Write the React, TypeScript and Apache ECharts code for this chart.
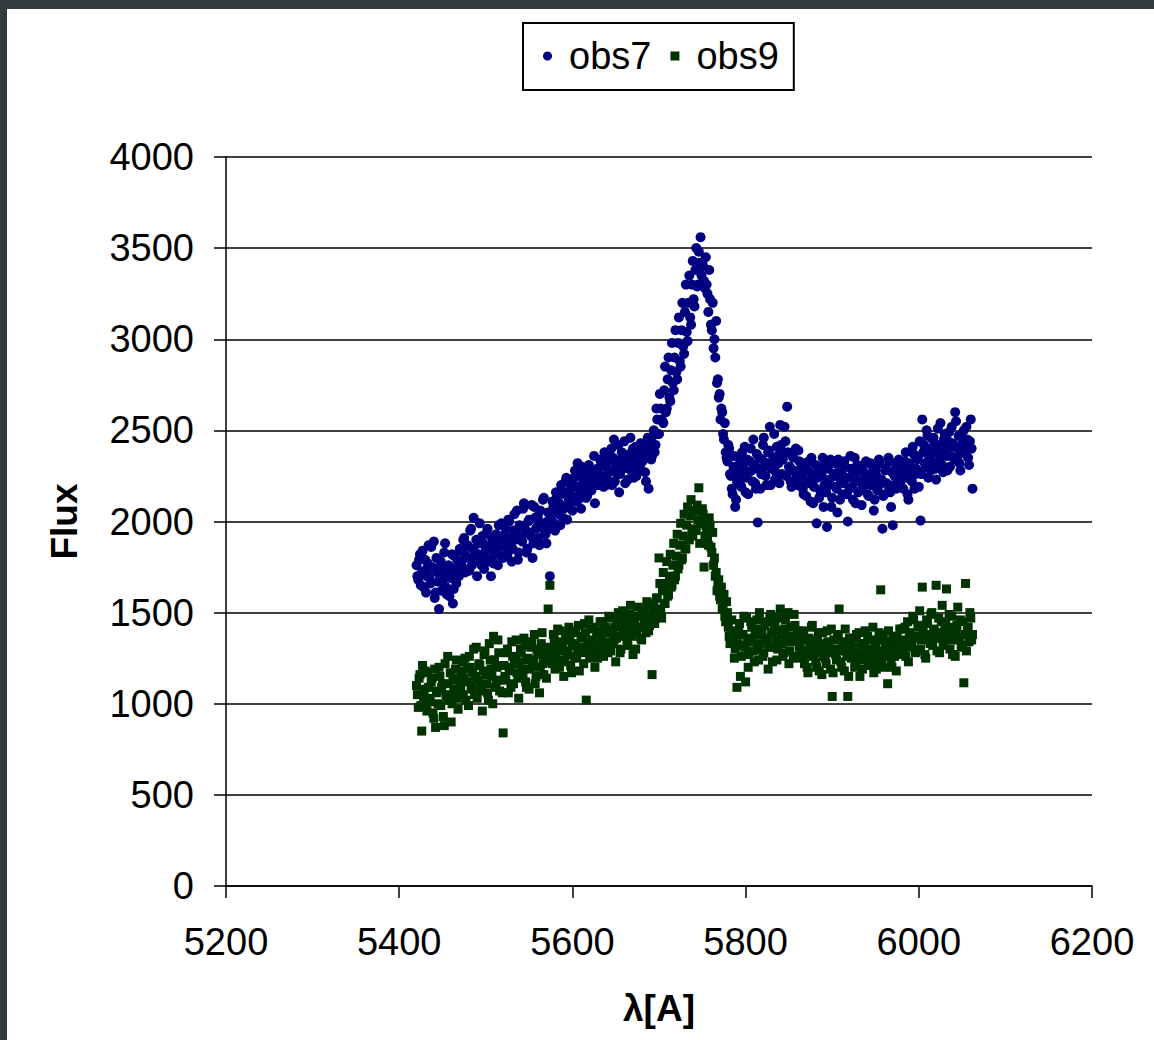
import React, { useEffect, useRef } from "react";
import * as echarts from "echarts";

// Wavelength grids (Angstrom): even and odd samples, shared by both observations
const WAVELENGTH_EVEN = [
  5420, 5422, 5424, 5426, 5428, 5430, 5432, 5434, 5436, 5438,
  5440, 5442, 5444, 5446, 5448, 5450, 5452, 5454, 5456, 5458,
  5460, 5462, 5464, 5466, 5468, 5470, 5472, 5474, 5476, 5478,
  5480, 5482, 5484, 5486, 5488, 5490, 5492, 5494, 5496, 5498,
  5500, 5502, 5504, 5506, 5508, 5510, 5512, 5514, 5516, 5518,
  5520, 5522, 5524, 5526, 5528, 5530, 5532, 5534, 5536, 5538,
  5540, 5542, 5544, 5546, 5548, 5550, 5552, 5554, 5556, 5558,
  5560, 5562, 5564, 5566, 5568, 5570, 5572, 5574, 5576, 5578,
  5580, 5582, 5584, 5586, 5588, 5590, 5592, 5594, 5596, 5598,
  5600, 5602, 5604, 5606, 5608, 5610, 5612, 5614, 5616, 5618,
  5620, 5622, 5624, 5626, 5628, 5630, 5632, 5634, 5636, 5638,
  5640, 5642, 5644, 5646, 5648, 5650, 5652, 5654, 5656, 5658,
  5660, 5662, 5664, 5666, 5668, 5670, 5672, 5674, 5676, 5678,
  5680, 5682, 5684, 5686, 5688, 5690, 5692, 5694, 5696, 5698,
  5700, 5702, 5704, 5706, 5708, 5710, 5712, 5714, 5716, 5718,
  5720, 5722, 5724, 5726, 5728, 5730, 5732, 5734, 5736, 5738,
  5740, 5742, 5744, 5746, 5748, 5750, 5752, 5754, 5756, 5758,
  5760, 5762, 5764, 5766, 5768, 5770, 5772, 5774, 5776, 5778,
  5780, 5782, 5784, 5786, 5788, 5790, 5792, 5794, 5796, 5798,
  5800, 5802, 5804, 5806, 5808, 5810, 5812, 5814, 5816, 5818,
  5820, 5822, 5824, 5826, 5828, 5830, 5832, 5834, 5836, 5838,
  5840, 5842, 5844, 5846, 5848, 5850, 5852, 5854, 5856, 5858,
  5860, 5862, 5864, 5866, 5868, 5870, 5872, 5874, 5876, 5878,
  5880, 5882, 5884, 5886, 5888, 5890, 5892, 5894, 5896, 5898,
  5900, 5902, 5904, 5906, 5908, 5910, 5912, 5914, 5916, 5918,
  5920, 5922, 5924, 5926, 5928, 5930, 5932, 5934, 5936, 5938,
  5940, 5942, 5944, 5946, 5948, 5950, 5952, 5954, 5956, 5958,
  5960, 5962, 5964, 5966, 5968, 5970, 5972, 5974, 5976, 5978,
  5980, 5982, 5984, 5986, 5988, 5990, 5992, 5994, 5996, 5998,
  6000, 6002, 6004, 6006, 6008, 6010, 6012, 6014, 6016, 6018,
  6020, 6022, 6024, 6026, 6028, 6030, 6032, 6034, 6036, 6038,
  6040, 6042, 6044, 6046, 6048, 6050, 6052, 6054, 6056, 6058,
  6060, 6062,
];

const WAVELENGTH_ODD = [
  5421, 5423, 5425, 5427, 5429, 5431, 5433, 5435, 5437, 5439,
  5441, 5443, 5445, 5447, 5449, 5451, 5453, 5455, 5457, 5459,
  5461, 5463, 5465, 5467, 5469, 5471, 5473, 5475, 5477, 5479,
  5481, 5483, 5485, 5487, 5489, 5491, 5493, 5495, 5497, 5499,
  5501, 5503, 5505, 5507, 5509, 5511, 5513, 5515, 5517, 5519,
  5521, 5523, 5525, 5527, 5529, 5531, 5533, 5535, 5537, 5539,
  5541, 5543, 5545, 5547, 5549, 5551, 5553, 5555, 5557, 5559,
  5561, 5563, 5565, 5567, 5569, 5571, 5573, 5575, 5577, 5579,
  5581, 5583, 5585, 5587, 5589, 5591, 5593, 5595, 5597, 5599,
  5601, 5603, 5605, 5607, 5609, 5611, 5613, 5615, 5617, 5619,
  5621, 5623, 5625, 5627, 5629, 5631, 5633, 5635, 5637, 5639,
  5641, 5643, 5645, 5647, 5649, 5651, 5653, 5655, 5657, 5659,
  5661, 5663, 5665, 5667, 5669, 5671, 5673, 5675, 5677, 5679,
  5681, 5683, 5685, 5687, 5689, 5691, 5693, 5695, 5697, 5699,
  5701, 5703, 5705, 5707, 5709, 5711, 5713, 5715, 5717, 5719,
  5721, 5723, 5725, 5727, 5729, 5731, 5733, 5735, 5737, 5739,
  5741, 5743, 5745, 5747, 5749, 5751, 5753, 5755, 5757, 5759,
  5761, 5763, 5765, 5767, 5769, 5771, 5773, 5775, 5777, 5779,
  5781, 5783, 5785, 5787, 5789, 5791, 5793, 5795, 5797, 5799,
  5801, 5803, 5805, 5807, 5809, 5811, 5813, 5815, 5817, 5819,
  5821, 5823, 5825, 5827, 5829, 5831, 5833, 5835, 5837, 5839,
  5841, 5843, 5845, 5847, 5849, 5851, 5853, 5855, 5857, 5859,
  5861, 5863, 5865, 5867, 5869, 5871, 5873, 5875, 5877, 5879,
  5881, 5883, 5885, 5887, 5889, 5891, 5893, 5895, 5897, 5899,
  5901, 5903, 5905, 5907, 5909, 5911, 5913, 5915, 5917, 5919,
  5921, 5923, 5925, 5927, 5929, 5931, 5933, 5935, 5937, 5939,
  5941, 5943, 5945, 5947, 5949, 5951, 5953, 5955, 5957, 5959,
  5961, 5963, 5965, 5967, 5969, 5971, 5973, 5975, 5977, 5979,
  5981, 5983, 5985, 5987, 5989, 5991, 5993, 5995, 5997, 5999,
  6001, 6003, 6005, 6007, 6009, 6011, 6013, 6015, 6017, 6019,
  6021, 6023, 6025, 6027, 6029, 6031, 6033, 6035, 6037, 6039,
  6041, 6043, 6045, 6047, 6049, 6051, 6053, 6055, 6057, 6059,
  6061,
];

const OBS7_FLUX_EVEN = [
  // 5420-5470
  1760, 1680, 1820, 1720, 1640, 1790, 1700, 1870, 1660, 1750, 1890, 1610, 1720, 1520, 1780, 1680, 1830, 1640, 1740, 1590, 1700, 1550, 1810, 1660, 1760, 1850,
  // 5472-5520
  1780, 1900, 1720, 1860, 1800, 1950, 1760, 2020, 1830, 1700, 1880, 1790, 1920, 1740, 1850, 1960, 1780, 1700, 1890, 1820, 1930, 1760, 1870, 1990, 1800,
  // 5522-5574
  1920, 1850, 2010, 1880, 1780, 1950, 1900, 2060, 1830, 1970, 1890, 2100, 1940, 1850, 2010, 1920, 1800, 2080, 1960, 2030, 1870, 1990, 2120, 1940, 1880, 2050, 1700,
  // 5576-5632
  1990, 2080, 1950, 2130, 2040, 1980, 2160, 2070, 2220, 2010, 2120, 2180, 2060, 2240, 2110, 2320, 2150, 2070, 2210, 2260, 2130, 2190, 2290, 2170, 2230, 2100, 2270, 2200, 2340,
  // 5634-5694
  2250, 2190, 2300, 2230, 2360, 2280, 2200, 2450, 2320, 2260, 2160, 2340, 2290, 2440, 2310, 2230, 2370, 2280, 2400, 2330, 2250, 2380, 2300, 2420, 2340, 2270, 2390, 2180, 2440, 2360, 2500,
  // 5696-5748
  2420, 2560, 2480, 2620, 2550, 2720, 2600, 2780, 2680, 2830, 2760, 2900, 2820, 2980, 2880, 3050, 2960, 3150, 3040, 3200, 3120, 3300, 3220, 3380, 3290, 3480, 3560,
  // 5750-5790
  3420, 3320, 3450, 3250, 3380, 3080, 3200, 3000, 3100, 2780, 2700, 2620, 2480, 2540, 2350, 2420, 2260, 2180, 2300, 2080, 2220,
  // 5792-5862
  2310, 2200, 2380, 2250, 2160, 2340, 2270, 2400, 2220, 2310, 2180, 1995, 2350, 2260, 2420, 2300, 2200, 2380, 2520, 2290, 2350, 2230, 2410, 2320, 2530, 2260, 2380, 2440, 2630, 2300, 2220, 2360, 2280, 2400, 2200, 2330,
  // 5864-5978
  2250, 2180, 2320, 2140, 2280, 2210, 2350, 2100, 2240, 1990, 2300, 2170, 2250, 2080, 2310, 1970, 2200, 2340, 2130, 2260, 2190, 2050, 2300, 2220, 2150, 2330, 2240, 2000, 2180, 2290,
  2120, 2350, 2230, 2160, 2280, 2090, 2310, 2200, 2250, 2140, 2320, 2210, 2060, 2280, 2170, 2340, 2220, 1960, 2150, 2290, 2200, 2330, 2080, 1980, 2250, 2180, 2310, 2230,
  // 5980-6062
  2270, 2180, 2330, 2240, 2120, 2290, 2220, 2370, 2260, 2340, 2190, 2005, 2560, 2420, 2300, 2470, 2350, 2280, 2450, 2380, 2230, 2510, 2330, 2420, 2270,
  2480, 2360, 2440, 2300, 2520, 2410, 2600, 2350, 2470, 2280, 2430, 2500, 2370, 2450, 2310, 2560, 2180,
];

const OBS7_FLUX_ODD = [
  // 5421-5469
  1700, 1790, 1650, 1840, 1730, 1610, 1770, 1690, 1860, 1740, 1580, 1800, 1670, 1750, 1620, 1710, 1880, 1600, 1760, 1690, 1820, 1630, 1740, 1790, 1700,
  // 5471-5519
  1840, 1750, 1910, 1810, 1870, 1730, 1960, 1850, 1780, 1900, 1820, 1990, 1760, 1880, 1830, 1940, 1790, 1860, 1910, 1770, 1890, 1840, 1980, 1810, 1920,
  // 5521-5573
  1870, 1960, 1820, 2000, 1910, 1850, 2040, 1930, 1790, 1980, 1900, 2070, 1960, 1830, 2000, 1940, 2090, 1880, 2020, 1970, 1910, 2060, 1990, 2130, 1930, 2000, 1960,
  // 5575-5631
  2030, 2110, 1990, 2160, 2060, 2100, 2200, 2020, 2150, 2240, 2090, 2170, 2230, 2130, 2280, 2190, 2120, 2250, 2300, 2180, 2220, 2140, 2310, 2250, 2190, 2360, 2240, 2290, 2210,
  // 5633-5693
  2310, 2240, 2380, 2200, 2330, 2270, 2400, 2350, 2220, 2300, 2420, 2260, 2380, 2330, 2210, 2350, 2290, 2460, 2320, 2240, 2410, 2360, 2280, 2430, 2330, 2380, 2220, 2460, 2400, 2340, 2470,
  // 5695-5747
  2380, 2620, 2480, 2700, 2560, 2540, 2850, 2620, 2900, 2660, 2980, 2720, 3050, 2780, 3120, 2850, 3200, 2920, 3300, 2990, 3350, 3080, 3430, 3180, 3500, 3300, 3420,
  // 5749-5789
  3350, 3400, 3280, 3300, 3150, 3220, 3050, 2950, 2900, 2760, 2680, 2560, 2600, 2450, 2380, 2330, 2400, 2250, 2150, 2360, 2120,
  // 5791-5861
  2260, 2350, 2190, 2300, 2410, 2240, 2150, 2330, 2280, 2450, 2210, 2370, 2290, 2180, 2340, 2460, 2250, 2320, 2390, 2200, 2300, 2480, 2270, 2360, 2210, 2420, 2340, 2520, 2250, 2380, 2300, 2190, 2350, 2270, 2240, 2390,
  // 5863-5977
  2200, 2300, 2150, 2270, 2220, 2330, 2110, 2260, 2190, 2310, 2240, 2130, 2280, 2350, 2200, 2160, 2290, 2230, 2080, 2320, 2250, 2180, 2340, 2120, 2270, 2210, 2300, 2150, 2240, 2360,
  2190, 2260, 2100, 2310, 2220, 2170, 2290, 2240, 2330, 2150, 2260, 2200, 2300, 2120, 2250, 2190, 2320, 2230, 2140, 2280, 2210, 2350, 2160, 2270, 2200, 2290, 2240, 2340,
  // 5979-6061
  2220, 2300, 2260, 2380, 2150, 2320, 2250, 2410, 2180, 2290, 2350, 2440, 2260, 2380, 2320, 2500, 2240, 2400, 2330, 2460, 2290, 2420, 2370, 2540, 2310,
  2450, 2390, 2280, 2490, 2360, 2430, 2340, 2550, 2400, 2320, 2470, 2380, 2420, 2520, 2350, 2440, 2400,
];

const OBS9_FLUX_EVEN = [
  // 5420-5470
  1100, 980, 1160, 850, 1040, 1180, 960, 1090, 1010, 1140, 920, 870, 1070, 1200, 990, 1110, 880, 1050, 1260, 1020, 900, 1130, 1060, 1240, 970, 1100,
  // 5472-5520
  1180, 1050, 1250, 1120, 990, 1200, 1080, 1300, 1150, 1030, 1220, 1100, 960, 1270, 1160, 1060, 1330, 1190, 1000, 1240, 1120, 1350, 1070, 1210, 840,
  // 5522-5574
  1150, 1280, 1060, 1200, 1340, 1110, 1250, 1170, 1030, 1300, 1190, 1360, 1120, 1240, 1080, 1310, 1200, 1380, 1150, 1270, 1060, 1330, 1220, 1290, 1140, 1520, 1650,
  // 5576-5632
  1260, 1380, 1190, 1320, 1240, 1400, 1290, 1150, 1350, 1270, 1420, 1210, 1330, 1260, 1390, 1300, 1180, 1370, 1280, 1440, 1020, 1340, 1250, 1410, 1310, 1200, 1380, 1290, 1450,
  // 5634-5694
  1330, 1260, 1420, 1340, 1480, 1290, 1400, 1350, 1230, 1460, 1370, 1300, 1510, 1380, 1440, 1320, 1490, 1410, 1270, 1460, 1390, 1530, 1420, 1350, 1500, 1440, 1560, 1400, 1480, 1160, 1540,
  // 5696-5748
  1470, 1580, 1800, 1520, 1620, 1550, 1660, 1590, 1700, 1640, 1760, 1680, 1810, 1740, 1870, 1790, 1920, 1850, 1980, 1900, 2030, 1940, 2060, 1960, 2090, 2185, 2000,
  // 5750-5790
  2070, 1750, 1980, 1900, 2020, 1860, 1940, 1800, 1720, 1660, 1590, 1640, 1540, 1480, 1560, 1420, 1330, 1460, 1380, 1300, 1090,
  // 5792-5862
  1400, 1150, 1320, 1480, 1120, 1360, 1270, 1450, 1340, 1230, 1410, 1300, 1500, 1380, 1260, 1430, 1350, 1190, 1470, 1390, 1310, 1440, 1240, 1400, 1520, 1330, 1280, 1460, 1370, 1220, 1420, 1340, 1490, 1260, 1380, 1310,
  // 5864-5978
  1290, 1380, 1220, 1350, 1170, 1310, 1420, 1260, 1340, 1200, 1390, 1280, 1160, 1330, 1250, 1400, 1300, 1190, 1040, 1350, 1270, 1380, 1520, 1230, 1320, 1180, 1290, 1040, 1360, 1250,
  1310, 1200, 1380, 1270, 1150, 1330, 1240, 1400, 1290, 1210, 1350, 1260, 1170, 1320, 1230, 1390, 1625, 1280, 1200, 1340, 1110, 1300, 1230, 1370, 1260, 1180, 1330, 1410,
  // 5980-6062
  1350, 1270, 1420, 1310, 1230, 1390, 1330, 1460, 1280, 1370, 1420, 1300, 1640, 1380, 1250, 1440, 1350, 1490, 1320, 1400, 1650, 1360, 1280, 1450, 1340,
  1410, 1630, 1370, 1300, 1480, 1390, 1260, 1430, 1350, 1460, 1320, 1115, 1660, 1400, 1340, 1470, 1380,
];

const OBS9_FLUX_ODD = [
  // 5421-5469
  1050, 1140, 990, 1210, 1080, 1000, 1170, 1030, 1120, 950, 1190, 1060, 1000, 1150, 1090, 930, 1220, 1040, 1110, 1170, 1000, 1080, 1190, 1030, 1140,
  // 5471-5519
  1090, 1230, 1140, 1020, 1190, 1260, 1100, 1170, 1050, 1310, 1130, 1210, 1070, 1180, 1290, 1110, 1020, 1240, 1150, 1370, 1090, 1200, 1280, 1130, 1060,
  // 5521-5573
  1210, 1130, 1300, 1180, 1090, 1260, 1220, 1350, 1140, 1230, 1280, 1160, 1320, 1090, 1250, 1190, 1340, 1240, 1110, 1300, 1270, 1200, 1390, 1160, 1250, 1310, 1230,
  // 5575-5631
  1300, 1220, 1350, 1280, 1410, 1200, 1340, 1310, 1230, 1380, 1290, 1350, 1170, 1400, 1320, 1250, 1430, 1310, 1360, 1220, 1390, 1300, 1460, 1270, 1350, 1420, 1330, 1250, 1400,
  // 5633-5693
  1370, 1450, 1300, 1410, 1280, 1390, 1470, 1330, 1420, 1360, 1500, 1280, 1430, 1390, 1470, 1350, 1410, 1540, 1370, 1450, 1300, 1480, 1420, 1360, 1510, 1470, 1390, 1550, 1430, 1500, 1460,
  // 5695-5747
  1440, 1580, 1500, 1660, 1470, 1720, 1550, 1780, 1600, 1820, 1650, 1880, 1700, 1930, 1760, 1990, 1800, 2040, 1850, 2080, 1900, 2120, 1920, 2060, 1950, 2010, 1880,
  // 5749-5789
  1990, 2040, 1920, 1960, 1870, 1980, 1830, 1760, 1700, 1620, 1680, 1570, 1520, 1600, 1450, 1500, 1370, 1400, 1340, 1250, 1380,
  // 5791-5861
  1330, 1440, 1260, 1380, 1310, 1470, 1200, 1350, 1420, 1290, 1380, 1460, 1240, 1330, 1400, 1280, 1450, 1360, 1310, 1490, 1230, 1420, 1350, 1300, 1470, 1380, 1260, 1410, 1340, 1500, 1290, 1370, 1250, 1430, 1360, 1400,
  // 5863-5977
  1330, 1250, 1400, 1290, 1200, 1360, 1270, 1430, 1310, 1230, 1350, 1180, 1300, 1390, 1260, 1220, 1340, 1280, 1410, 1170, 1300, 1240, 1370, 1290, 1200, 1340, 1410, 1260, 1150, 1320,
  1280, 1360, 1220, 1310, 1390, 1250, 1190, 1330, 1280, 1370, 1230, 1300, 1420, 1270, 1190, 1350, 1290, 1240, 1380, 1310, 1260, 1400, 1330, 1200, 1350, 1290, 1370, 1310,
  // 5979-6061
  1300, 1410, 1340, 1260, 1450, 1380, 1320, 1480, 1360, 1290, 1430, 1510, 1350, 1400, 1270, 1460, 1380, 1330, 1500, 1410, 1360, 1290, 1470, 1390, 1540,
  1320, 1440, 1380, 1490, 1350, 1270, 1420, 1400, 1530, 1360, 1310, 1450, 1380, 1290, 1420, 1500, 1350,
];

const SERIES_NAMES = ["obs7", "obs9"];
const X_AXIS = { min: 5200, max: 6200, interval: 200 };
const Y_AXIS = { min: 0, max: 4000, interval: 500 };

const FONT = "'Liberation Sans', Arial, sans-serif";

function pairs(xs: number[], ys: number[]) {
  const n = Math.min(xs.length, ys.length);
  const out: number[][] = [];
  for (let i = 0; i < n; i++) out.push([xs[i], ys[i]]);
  return out;
}

export default function App() {
  const ref = useRef<HTMLDivElement>(null);

  useEffect(() => {
    if (!ref.current) return;
    const chart = echarts.init(ref.current, null, { renderer: "svg" });
    const obs7 = pairs(WAVELENGTH_EVEN, OBS7_FLUX_EVEN).concat(pairs(WAVELENGTH_ODD, OBS7_FLUX_ODD));
    const obs9 = pairs(WAVELENGTH_EVEN, OBS9_FLUX_EVEN).concat(pairs(WAVELENGTH_ODD, OBS9_FLUX_ODD));
    chart.setOption({
      animation: false,
      backgroundColor: "#ffffff",
      textStyle: { fontFamily: FONT },
      legend: {
        data: [
          { name: SERIES_NAMES[0], icon: "circle" },
          { name: SERIES_NAMES[1], icon: "rect" },
        ],
        left: 516,
        top: 14,
        orient: "horizontal",
        selectedMode: false,
        borderColor: "#000",
        borderWidth: 2,
        padding: [14, 15, 15, 20],
        itemWidth: 9,
        itemHeight: 9,
        itemGap: 19,
        textStyle: { fontSize: 38, color: "#000", fontFamily: FONT, padding: [0, 0, 0, 12] },
      },
      grid: { left: 219, right: 62, top: 148, bottom: 154, containLabel: false },
      xAxis: {
        type: "value",
        min: X_AXIS.min,
        max: X_AXIS.max,
        interval: X_AXIS.interval,
        name: "λ[A]",
        nameLocation: "middle",
        nameGap: 104,
        nameTextStyle: { fontSize: 37, fontWeight: "bold", color: "#000", fontFamily: FONT },
        axisLine: { show: true, lineStyle: { color: "#000", width: 1.5 } },
        axisTick: { show: true, inside: false, length: 12, lineStyle: { color: "#000", width: 1.5 } },
        axisLabel: { fontSize: 38, color: "#000", margin: 37, fontFamily: FONT, formatter: (v: number) => String(v) },
        splitLine: { show: false },
      },
      yAxis: {
        type: "value",
        min: Y_AXIS.min,
        max: Y_AXIS.max,
        interval: Y_AXIS.interval,
        name: "Flux",
        nameLocation: "middle",
        nameGap: 143,
        nameTextStyle: { fontSize: 37, fontWeight: "bold", color: "#000", fontFamily: FONT },
        axisLine: { show: true, lineStyle: { color: "#000", width: 1.5 } },
        axisTick: { show: true, inside: false, length: 12, lineStyle: { color: "#000", width: 1.5 } },
        axisLabel: { fontSize: 38, color: "#000", margin: 32, fontFamily: FONT, formatter: (v: number) => String(v) },
        splitLine: { show: true, lineStyle: { color: "#000", width: 1.5 } },
      },
      series: [
        {
          name: SERIES_NAMES[0],
          type: "scatter",
          symbol: "circle",
          symbolSize: 10,
          itemStyle: { color: "#000080", opacity: 1 },
          data: obs7,
        },
        {
          name: SERIES_NAMES[1],
          type: "scatter",
          symbol: "rect",
          symbolSize: 9,
          itemStyle: { color: "#003300", opacity: 1 },
          data: obs9,
        },
      ],
    });
    return () => chart.dispose();
  }, []);

  return (
    <div style={{ position: "fixed", left: 0, top: 0, right: 0, bottom: 0, background: "#343b3e" }}>
      <div
        ref={ref}
        style={{ position: "absolute", left: 7, top: 9, width: 1147, height: 1031, background: "#ffffff" }}
      />
    </div>
  );
}
